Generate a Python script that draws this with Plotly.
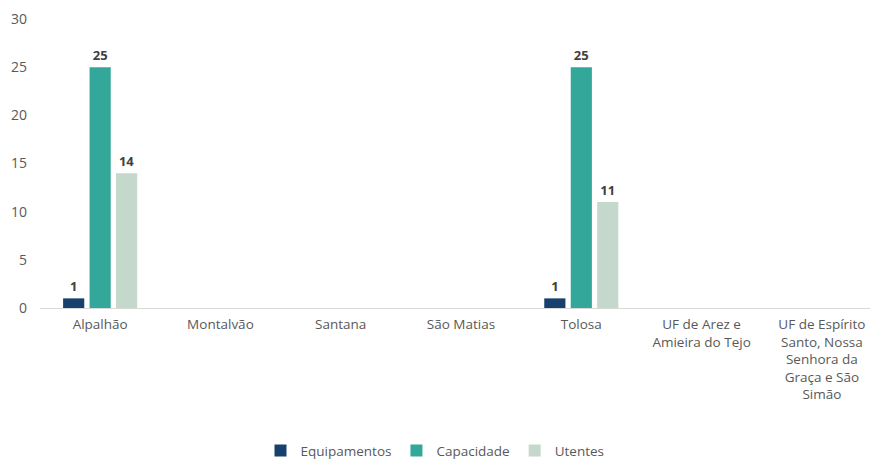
import plotly.graph_objects as go

categories = [
    "Alpalhão",
    "Montalvão",
    "Santana",
    "São Matias",
    "Tolosa",
    "UF de Arez e<br>Amieira do Tejo",
    "UF de Espírito<br>Santo, Nossa<br>Senhora da<br>Graça e São<br>Simão",
]
equipamentos = [1, 0, 0, 0, 1, 0, 0]
capacidade = [25, 0, 0, 0, 25, 0, 0]
utentes = [14, 0, 0, 0, 11, 0, 0]
y_ticks = [0, 5, 10, 15, 20, 25, 30]

series = [
    ("Equipamentos", equipamentos, "#17406D"),
    ("Capacidade", capacidade, "#33A89A"),
    ("Utentes", utentes, "#C4D9CB"),
]

FONT = "Open Sans, Noto Sans, sans-serif"

fig = go.Figure()
for name, vals, color in series:
    fig.add_trace(go.Bar(
        name=name,
        x=categories,
        y=vals,
        marker=dict(color=color, line=dict(width=0)),
        text=[str(v) if v else "" for v in vals],
        textposition="outside",
        textfont=dict(family=FONT, size=13, color="#404040", weight="bold"),
        cliponaxis=False,
    ))

fig.update_layout(
    width=870,
    height=459,
    margin=dict(l=40, r=0, t=19, b=151),
    paper_bgcolor="white",
    plot_bgcolor="white",
    barmode="group",
    bargap=0.34,
    bargroupgap=0.2,
    font=dict(family=FONT, size=13, color="#595959"),
    showlegend=True,
    legend=dict(
        orientation="h",
        x=0.5,
        xanchor="center",
        xref="container",
        y=0.018,
        yanchor="middle",
        yref="container",
        font=dict(family=FONT, size=13.5, color="#595959"),
        itemwidth=30,
    ),
    xaxis=dict(
        range=[-0.5, 6.4],
        automargin=False,
        showline=True,
        linecolor="#D9D9D9",
        linewidth=1,
        ticks="",
        showgrid=False,
        ticklabelstandoff=4,
        tickfont=dict(family=FONT, size=13.5, color="#595959"),
    ),
    yaxis=dict(
        range=[0, 30],
        automargin=False,
        tickvals=y_ticks,
        showgrid=False,
        zeroline=False,
        showline=False,
        ticks="",
        tickfont=dict(family=FONT, size=14, color="#595959"),
        ticklabelstandoff=12,
    ),
)

fig.write_html("out.html")
